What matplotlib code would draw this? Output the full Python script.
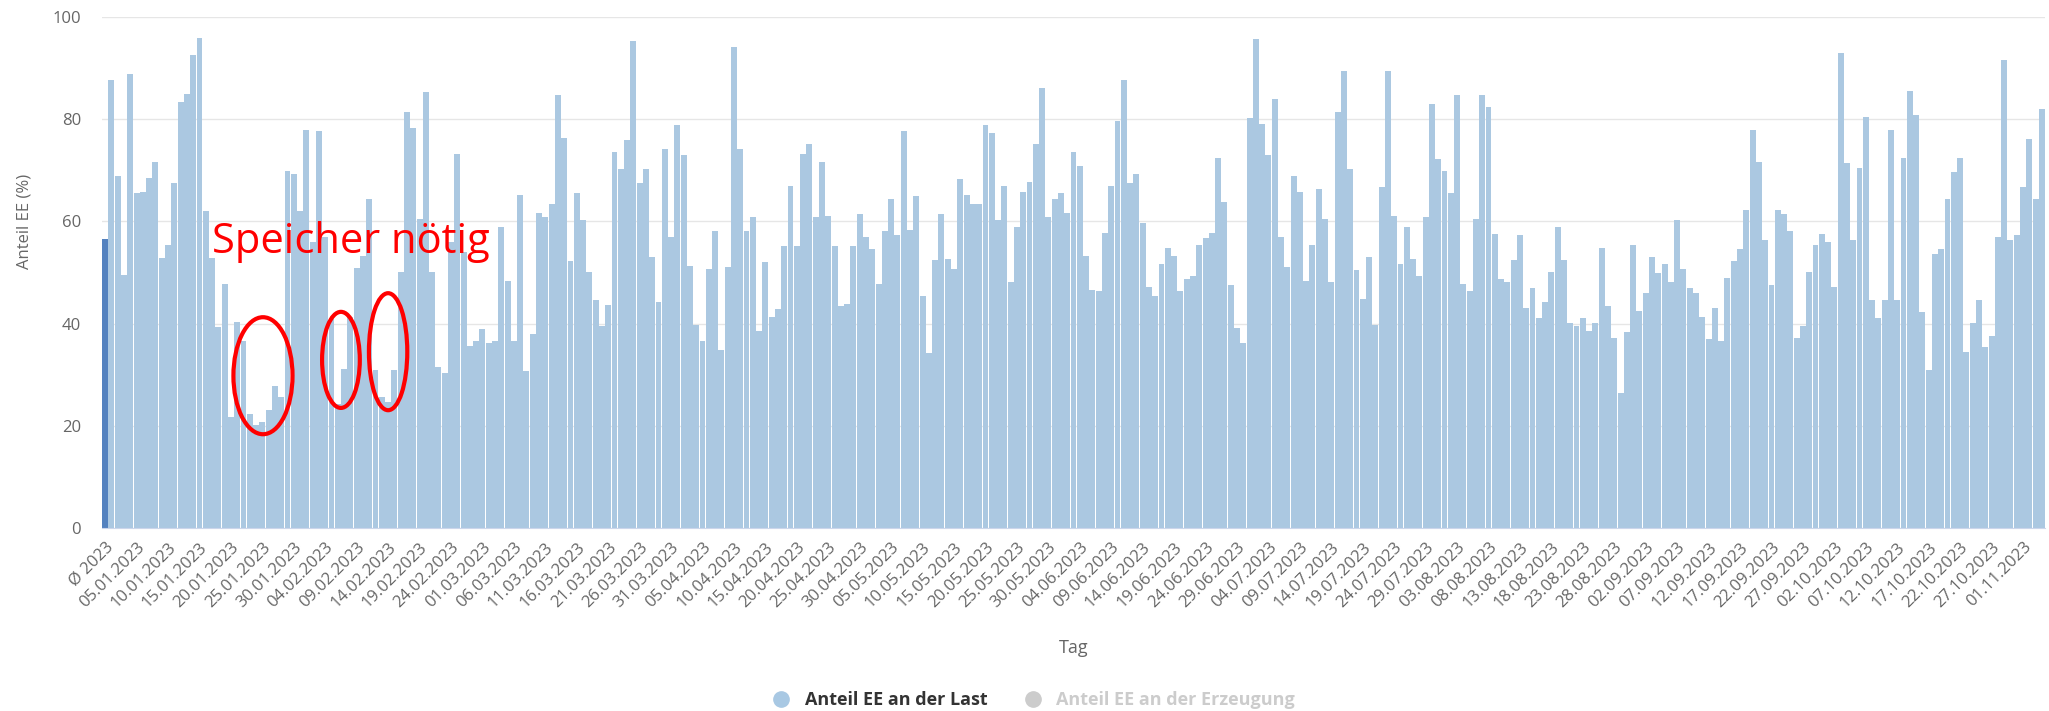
import numpy as np
import pandas as pd
import matplotlib
matplotlib.use('Agg')
import matplotlib.pyplot as plt
from matplotlib.patches import Ellipse
from matplotlib.lines import Line2D

plt.rcParams['font.family'] = ['Open Sans', 'DejaVu Sans']

# Jahresmittel + Tageswerte Anteil EE an der Last (%), 01.01.2023 - 04.11.2023
mean_2023 = 56.5
daily_share = [
    87.6, 68.8, 49.5, 88.8, 65.5, 65.8, 68.5, 71.7, 52.8, 55.4, 67.6, 83.3, 85.0, 92.5, 95.9, 62.0,
    52.8, 39.3, 47.8, 21.8, 40.4, 36.6, 22.4, 20.1, 20.7, 23.0, 27.7, 25.6,
    69.9, 69.3, 62.0, 77.9, 56.0, 77.6, 57.0,
    41.1, 24.2, 31.2, 41.3, 50.8, 53.3, 64.3, 31.0, 25.6, 24.7, 31.0, 50.1, 81.4, 78.2, 60.5,
    85.3, 50.1, 31.6, 30.4, 56.0, 73.2, 54.0,
    35.6, 36.5, 38.9, 36.3, 36.5, 59.0, 48.4, 36.5, 65.2, 30.7, 38.0, 61.7, 60.8, 63.5, 84.7,
    76.4, 52.2, 65.5, 60.2,
    50.1, 44.6, 39.5, 43.7, 73.5, 70.3, 75.9, 95.3, 67.6, 70.3, 53.1, 44.2, 74.1, 56.9, 78.8,
    72.9, 51.3, 39.8, 36.5, 50.7, 58.1, 34.8, 51.0, 94.1, 74.1, 58.1,
    60.8, 38.6, 52.0, 41.3, 42.8, 55.2, 67.0, 55.2, 73.2, 75.2, 60.8, 71.7, 61.1, 55.2, 43.4,
    43.9, 55.2, 61.4, 56.9, 54.6, 47.8, 58.1, 64.3, 57.3, 77.6, 58.4,
    64.9, 45.4, 34.2, 52.5, 61.4, 52.7, 50.7, 68.2, 65.2, 63.5, 63.5, 78.8, 77.3, 60.2, 67.0,
    48.1, 59.0, 65.8, 67.8, 75.2, 86.1, 60.8, 64.3, 65.5, 61.7, 73.5,
    70.8, 53.3, 46.6, 46.3, 57.8, 67.0, 79.7, 87.6, 67.6, 69.3, 59.6, 47.2, 45.4, 51.6, 54.8,
    53.3, 46.3, 48.7, 49.3, 55.4, 56.7, 57.8, 72.5, 63.7, 47.5, 39.2,
    36.3, 80.2, 95.6, 79.1, 72.9, 83.9, 56.9, 51.0, 68.8, 65.8, 48.4, 55.4, 66.4, 60.5, 48.1,
    81.4, 89.4, 70.3, 50.5, 44.8, 53.1, 39.8, 66.7, 89.4, 61.1, 51.6,
    59.0, 52.7, 49.3, 60.8, 82.9, 72.3, 69.9, 65.5, 84.7, 47.8, 46.3, 60.5, 84.7, 82.4, 57.6,
    48.7, 48.1, 52.5, 57.3, 43.1, 46.9, 41.0, 44.2, 50.1, 59.0, 52.5,
    40.1, 39.5, 41.0, 38.6, 40.1, 54.8, 43.4, 37.1, 26.5, 38.4, 55.4, 42.5, 46.0, 53.1, 49.9,
    51.6, 48.1, 60.2, 50.7, 46.9, 46.0, 41.3, 36.9, 43.1, 36.5, 49.0,
    52.2, 54.6, 62.3, 77.9, 71.7, 56.3, 47.5, 62.3, 61.4, 58.1, 37.1, 39.5, 50.1, 55.4, 57.6,
    56.0, 47.2, 93.0, 71.4, 56.3, 70.5, 80.5, 44.6, 41.0, 44.6, 77.9,
    44.6, 72.5, 85.6, 80.8, 42.2, 31.0, 53.7, 54.6, 64.3, 69.6, 72.5, 34.5, 40.1, 44.6, 35.4,
    37.5, 56.9, 91.5, 56.3, 57.3, 66.7, 76.1, 64.3, 82.0,
]

days = pd.date_range('2023-01-01', periods=len(daily_share), freq='D')
labels = ['Ø 2023'] + [d.strftime('%d.%m.%Y') for d in days]
values = [mean_2023] + daily_share

# Markierungen (Mitte x, Mitte y, Breite, Höhe) in Datenkoordinaten
marks_x = [25.1, 37.5, 45.0]
marks_y = [29.8, 32.9, 34.5]
marks_w = [9.4, 6.0, 6.1]
marks_h = [22.9, 18.8, 22.9]

fig = plt.figure(figsize=(20.49, 7.11), dpi=100)
ax = fig.add_axes([102 / 2049, 1 - 528 / 711, 1943 / 2049, 511 / 711])

x = np.arange(len(values))
colors = ['#5482bf'] + ['#abc8e1'] * len(daily_share)
ax.bar(x, values, width=0.94, color=colors, linewidth=0, zorder=2)

ax.set_xlim(-0.5, len(values) - 0.5)
ax.set_ylim(0, 100)
ax.set_yticks(range(0, 101, 20))
ax.grid(axis='y', color='#e6e6e6', linewidth=1, zorder=0)
ax.set_axisbelow(True)
for s in ['top', 'right', 'left']:
    ax.spines[s].set_visible(False)
ax.spines['bottom'].set_color('#ccd6eb')

ticks = list(range(0, len(values), 5))
ax.set_xticks(ticks)
ax.set_xticklabels([labels[i] for i in ticks], rotation=45, ha='right',
                   rotation_mode='anchor', fontsize=12, color='#666666')
ax.tick_params(axis='x', length=0, pad=8)
ax.tick_params(axis='y', length=0, pad=15, labelsize=12, labelcolor='#666666')

ax.set_ylabel('Anteil EE (%)', fontsize=12, color='#666666')
ax.yaxis.set_label_coords(-0.036, 0.60)
ax.set_xlabel('Tag', fontsize=13, color='#666666')
ax.xaxis.set_label_coords(0.5, -0.218)

ax.text(17.0, 53.8, 'Speicher nötig', color='red', fontsize=30, zorder=5)
for cx, cy, w, h in zip(marks_x, marks_y, marks_w, marks_h):
    ax.add_patch(Ellipse((cx, cy), w, h, fill=False, edgecolor='red',
                         linewidth=3, zorder=6))

handles = [
    Line2D([], [], marker='o', linestyle='', markersize=11, color='#a8c8e3'),
    Line2D([], [], marker='o', linestyle='', markersize=11, color='#cccccc'),
]
leg = fig.legend(handles, ['Anteil EE an der Last', 'Anteil EE an der Erzeugung'],
                 loc='center', bbox_to_anchor=(1029 / 2049, 1 - 700 / 711), ncol=2,
                 frameon=False, fontsize=13, handletextpad=0.3, columnspacing=1.5)
leg.get_texts()[0].set_color('#333333')
leg.get_texts()[1].set_color('#cccccc')
for t in leg.get_texts():
    t.set_fontweight('bold')

plt.savefig('out.png', dpi=100)
plt.close()
